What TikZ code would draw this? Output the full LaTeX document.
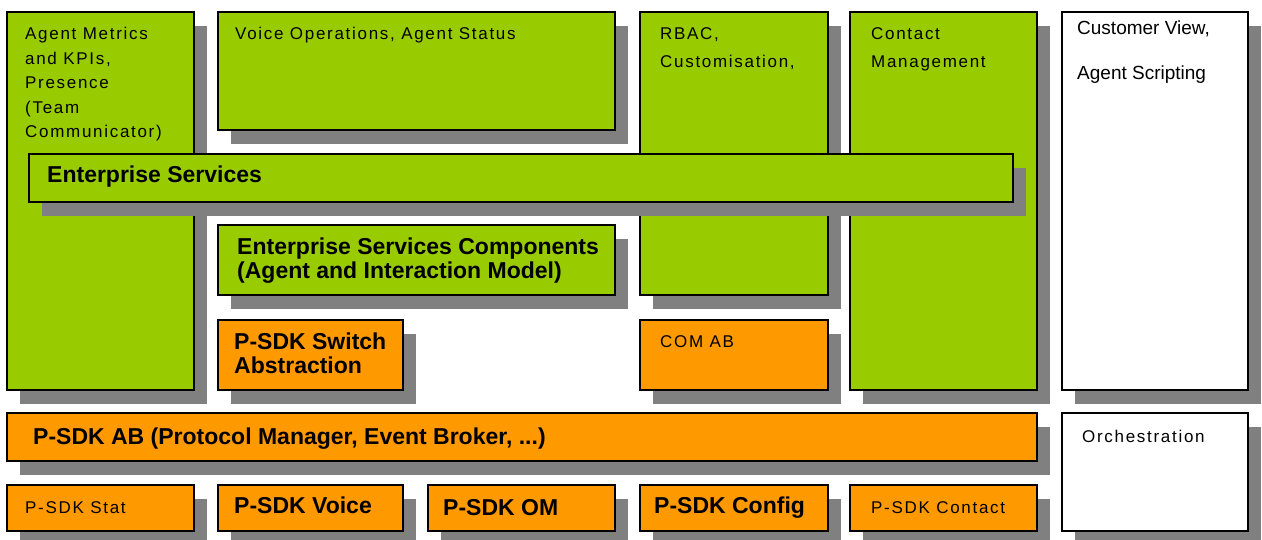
\documentclass[tikz,border=0pt]{standalone}
\usepackage{fontspec}
\setmainfont{Liberation Sans}
\newfontfamily\spacedsans[LetterSpace=10]{Liberation Sans}
\usetikzlibrary{shadows,fit}
\definecolor{layergreen}{HTML}{99CC00}
\definecolor{layerorange}{HTML}{FF9900}
\definecolor{shadowgray}{HTML}{808080}

\begin{document}
\begin{tikzpicture}[x=1pt,y=-1pt,
  blk/.style={draw=black, line width=1.3pt, inner sep=0pt,
    drop shadow={shadow xshift=13pt, shadow yshift=-14pt, fill=shadowgray, opacity=1}},
  greenblk/.style={blk, fill=layergreen},
  orangeblk/.style={blk, fill=layerorange},
  whiteblk/.style={blk, fill=white},
  % labels are placed by the baseline of their last line
  lbl/.style={anchor=base west, inner sep=0pt, align=left,
    font=\spacedsans\fontsize{17}{24.5}\selectfont},
  blbl/.style={anchor=base west, inner sep=0pt, align=left,
    font=\bfseries\fontsize{23}{24}\selectfont},
]
\useasboundingbox (0,0) rectangle (1262,540);

% vertical columns
\node[greenblk, fit={(7,12) (194,390)}] (am) {};
\node[greenblk, fit={(218,12) (615,130)}] (vo) {};
\node[greenblk, fit={(640,12) (828,295)}] (rb) {};
\node[greenblk, fit={(850,12) (1037,390)}] (cm) {};
\node[whiteblk, fit={(1062,12) (1248,390)}] (cv) {};

% horizontal service layer on top of the columns
\node[greenblk, fit={(29,154) (1013,202)}] (es) {};
\node[greenblk, fit={(218,225) (615,295)}] (esc) {};

% platform SDK blocks
\node[orangeblk, fit={(218,320) (403,390)}] (sw) {};
\node[orangeblk, fit={(640,320) (828,390)}] (com) {};
\node[orangeblk, fit={(7,413) (1037,461)}] (ab) {};
\node[whiteblk, fit={(1062,413) (1248,531)}] (orc) {};
\node[orangeblk, fit={(7,485) (194,531)}] (st) {};
\node[orangeblk, fit={(218,485) (403,531)}] (vc) {};
\node[orangeblk, fit={(428,485) (615,531)}] (om) {};
\node[orangeblk, fit={(640,485) (828,531)}] (cf) {};
\node[orangeblk, fit={(850,485) (1037,531)}] (ct) {};

% labels
\node[lbl] (amt) at (25,138) {Agent Metrics\\and KPIs,\\Presence\\(Team\\Communicator)};
\node[lbl] (vot) at (235,40) {Voice Operations, Agent Status};
\node[lbl, font=\spacedsans\fontsize{17}{28}\selectfont] (rbt) at (660,68) {RBAC,\\Customisation,};
\node[lbl, font=\spacedsans\fontsize{17}{28}\selectfont] (cmt) at (871,68) {Contact\\Management};
\node[lbl, font=\fontsize{19}{45}\selectfont] (cvt) at (1077,80) {Customer View,\\Agent Scripting};
\node[blbl] (est) at (47,183) {Enterprise Services};
\node[blbl] (esct) at (237,279) {Enterprise Services Components\\(Agent and Interaction Model)};
\node[blbl] (swt) at (234,373) {P-SDK Switch\\Abstraction};
\node[lbl] (comt) at (660,347) {COM AB};
\node[blbl] (abt) at (33,444) {P-SDK AB (Protocol Manager, Event Broker, ...)};
\node[lbl] (orct) at (1082,442) {Orchestration};
\node[lbl] (stt) at (25,513) {P-SDK Stat};
\node[blbl] (vct) at (234,513) {P-SDK Voice};
\node[blbl] (omt) at (443,515) {P-SDK OM};
\node[blbl] (cft) at (654,513) {P-SDK Config};
\node[lbl] (ctt) at (871,513) {P-SDK Contact};
\end{tikzpicture}
\end{document}
